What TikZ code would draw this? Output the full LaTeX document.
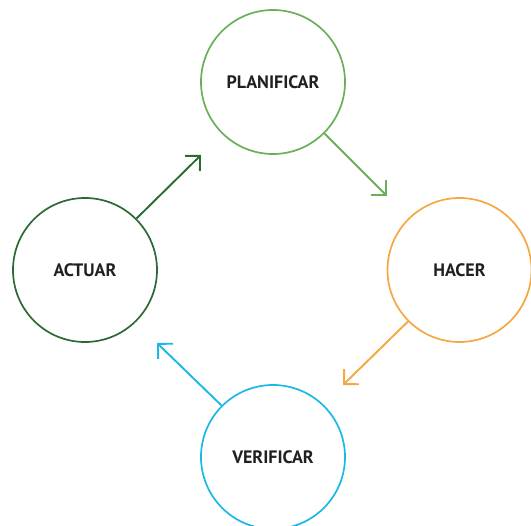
\documentclass[tikz,border=0pt]{standalone}
\usepackage{fontspec}
\setmainfont{PT Sans}
\usetikzlibrary{arrows.meta}
\definecolor{cplan}{HTML}{6AAF5A}
\definecolor{chacer}{HTML}{F5A742}
\definecolor{cverif}{HTML}{1AB8E8}
\definecolor{cactuar}{HTML}{2B6A35}
\definecolor{ctext}{HTML}{231F20}
\tikzset{
  phase/.style={circle, draw=#1, line width=1.7pt, minimum size=144pt, inner sep=0pt,
    font=\bfseries\fontsize{18}{20}\selectfont, text=ctext},
  flow/.style={draw=#1, line width=1.9pt, -{Straight Barb[length=10.5pt,width=21pt,line width=1.9pt]}}
}
\begin{document}
\begin{tikzpicture}[x=1pt,y=-1pt]
\useasboundingbox (0,0) rectangle (531,526);
\node[phase=cplan] (p) at (273,82) {PLANIFICAR};
\node[phase=chacer] (h) at (459.5,270) {HACER};
\node[phase=cverif] (v) at (273,457) {VERIFICAR};
\node[phase=cactuar] (a) at (85,270) {ACTUAR};
\coordinate (pe) at (387,196);
\coordinate (he) at (343,385);
\coordinate (ve) at (157,343);
\coordinate (ae) at (201,155);
\draw[flow=cplan] (p.-45) -- (pe);
\draw[flow=chacer] (h.-135) -- (he);
\draw[flow=cverif] (v.135) -- (ve);
\draw[flow=cactuar] (a.45) -- (ae);
\end{tikzpicture}
\end{document}
